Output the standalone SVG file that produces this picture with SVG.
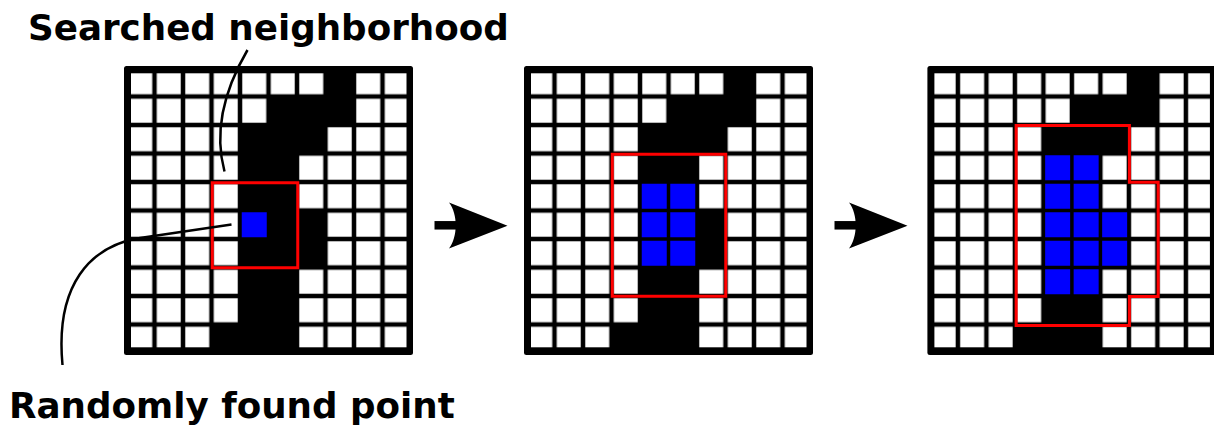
<svg xmlns="http://www.w3.org/2000/svg" xmlns:xlink="http://www.w3.org/1999/xlink" width="1214" height="425" viewBox="0 0 1214 425">
  <style>
    .frame { fill: #000000; }
    .cells { fill: url(#whiteCells); }
    .dark { fill: #000000; }
    .found { fill: #0000ff; }
    .region { fill: none; stroke: #ff0000; stroke-width: 3; stroke-linejoin: miter; }
    .leader { fill: none; stroke: #000000; stroke-width: 2.5; stroke-linecap: butt; }
    .shaft { fill: none; stroke: #000000; stroke-width: 8.5; }
    .head { fill: #000000; stroke: none; }
    .label { font-family: "DejaVu Sans", "Liberation Sans", sans-serif; font-weight: bold; font-size: 35.7px; fill: #000000; }
  </style>
  <defs>
    <pattern id="whiteCells" patternUnits="userSpaceOnUse" x="0" y="0" width="28.5" height="28.5">
      <rect x="2.25" y="2.25" width="24" height="24" fill="#ffffff"/>
    </pattern>
    <g id="baseGrid">
      <rect class="frame" x="-2" y="-2" width="289" height="289" rx="2.5"/>
      <rect class="cells" x="5" y="5.3" width="275.5" height="274"/>
      <rect class="dark" x="199.5" y="0" width="28.5" height="28.5"/>
      <rect class="dark" x="142.5" y="28.5" width="85.5" height="28.5"/>
      <rect class="dark" x="114" y="57" width="85.5" height="28.5"/>
      <rect class="dark" x="114" y="85.5" width="57" height="57"/>
      <rect class="dark" x="114" y="142.5" width="85.5" height="57"/>
      <rect class="dark" x="114" y="199.5" width="57" height="57"/>
      <rect class="dark" x="85.5" y="256.5" width="85.5" height="28.5"/>
    </g>
  </defs>

  <g id="grid1" transform="translate(126,68)">
    <use xlink:href="#baseGrid" href="#baseGrid"/>
    <rect class="found" x="115.75" y="144.25" width="25" height="25"/>
    <rect class="region" x="86.25" y="114.75" width="85.5" height="85"/>
  </g>

  <g id="grid2" transform="translate(526,68)">
    <use xlink:href="#baseGrid" href="#baseGrid"/>
    <rect class="found" x="115.75" y="115.75" width="25" height="25"/>
    <rect class="found" x="144.25" y="115.75" width="25" height="25"/>
    <rect class="found" x="115.75" y="144.25" width="25" height="25"/>
    <rect class="found" x="144.25" y="144.25" width="25" height="25"/>
    <rect class="found" x="115.75" y="172.75" width="25" height="25"/>
    <rect class="found" x="144.25" y="172.75" width="25" height="25"/>
    <rect class="region" x="86.25" y="86.25" width="113.5" height="142"/>
  </g>

  <g id="grid3" transform="translate(929.4,68)">
    <use xlink:href="#baseGrid" href="#baseGrid"/>
    <rect class="found" x="115.75" y="87.25" width="25" height="25"/>
    <rect class="found" x="144.25" y="87.25" width="25" height="25"/>
    <rect class="found" x="115.75" y="115.75" width="25" height="25"/>
    <rect class="found" x="144.25" y="115.75" width="25" height="25"/>
    <rect class="found" x="115.75" y="144.25" width="25" height="25"/>
    <rect class="found" x="144.25" y="144.25" width="25" height="25"/>
    <rect class="found" x="172.75" y="144.25" width="25" height="25"/>
    <rect class="found" x="115.75" y="172.75" width="25" height="25"/>
    <rect class="found" x="144.25" y="172.75" width="25" height="25"/>
    <rect class="found" x="172.75" y="172.75" width="25" height="25"/>
    <rect class="found" x="115.75" y="201.25" width="25" height="25"/>
    <rect class="found" x="144.25" y="201.25" width="25" height="25"/>
    <path class="region" d="M86.75,57.5 H200 V114.25 H228.75 V228.5 H200 V257.5 H86.75 Z"/>
  </g>

  <g id="label-searched">
    <text class="label" x="28" y="40">Searched neighborhood</text>
  </g>
  <g id="label-random">
    <text class="label" x="9" y="418">Randomly found point</text>
  </g>

  <g id="connectors">
    <path class="leader" d="M247.5,50 C230,80 212,125 224.5,171.5"/>
    <path class="leader" d="M231.5,224.5 L140,238 C90,246 55,285 62.5,365"/>
    <g id="arrow1">
      <line class="shaft" x1="434.5" y1="225.3" x2="457" y2="225.3"/>
      <path class="head" d="M507.5,225.8 L449,202.5 C458,214 458,237 449,248.5 Z"/>
    </g>
    <g id="arrow2">
      <line class="shaft" x1="834.5" y1="225.3" x2="857" y2="225.3"/>
      <path class="head" d="M907.5,225.8 L849,202.5 C858,214 858,237 849,248.5 Z"/>
    </g>
  </g>
</svg>
